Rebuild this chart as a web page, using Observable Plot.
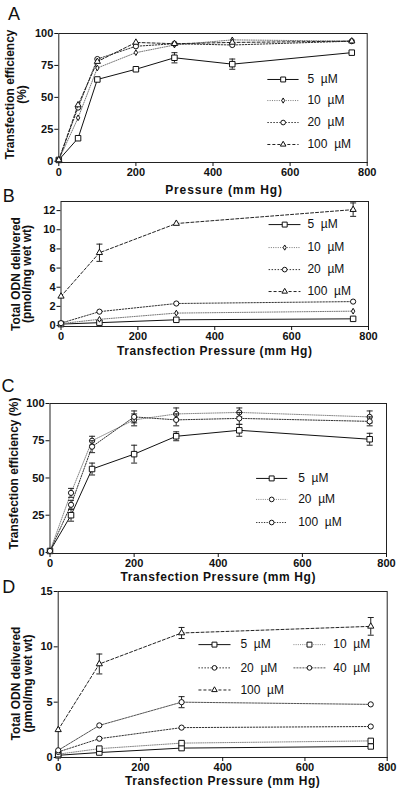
<!DOCTYPE html>
<html><head><meta charset="utf-8">
<script src="https://cdn.jsdelivr.net/npm/d3@7"></script>
<script src="https://cdn.jsdelivr.net/npm/@observablehq/plot@0.6"></script>
<style>
body{margin:0;background:#fff;}
#wrap{position:relative;width:400px;height:791px;overflow:hidden;background:#fff;}
#wrap svg{position:absolute;left:0;}
</style></head><body><div id="wrap"></div>
<script>
// ---------- data ----------
const xTicks = [0, 200, 400, 600, 800];

// Panel A
const pressA = [0, 50, 100, 200, 300, 450, 760];
const A_5   = [1, 18, 64, 72, 81, 76, 85];
const A_5e  = [0, 0, 0, 0, 4, 4, 0];
const A_10  = [1, 34, 73, 85, 91, 95, 94];
const A_20  = [1, 42, 80, 90, 92, 91, 94];
const A_100 = [1, 44, 78, 93, 92, 93, 94];
const A_yTicks = [0, 25, 50, 75, 100];

// Panel B
const pressB = [0, 100, 300, 760];
const B_5    = [0.15, 0.3, 0.6, 0.7];
const B_10   = [0.2, 0.65, 1.3, 1.5];
const B_20   = [0.25, 1.45, 2.3, 2.5];
const B_100  = [3.05, 7.6, 10.65, 12.1];
const B_100e = [0, 0.9, 0, 0.7];
const B_yTicks = [0, 2, 4, 6, 8, 10, 12];

// Panel C
const pressC = [0, 50, 100, 200, 300, 450, 760];
const C_5    = [1, 25, 56, 66, 78, 82, 76];
const C_5e   = [0, 4, 4, 6, 3, 4, 4];
const C_20   = [1, 40, 75, 89, 93, 94, 91];
const C_20e  = [0, 3, 3, 4, 4, 3, 4];
const C_100  = [1, 32, 71, 91, 89, 90, 88];
const C_100e = [0, 3, 4, 4, 4, 4, 3];
const C_yTicks = [0, 25, 50, 75, 100];

// Panel D
const pressD = [0, 100, 300, 760];
const D_5    = [0.2, 0.45, 0.85, 1.0];
const D_10   = [0.3, 0.8, 1.3, 1.5];
const D_20   = [0.5, 1.7, 2.7, 2.8];
const D_40   = [0.65, 2.9, 5.0, 4.8];
const D_40e  = [0, 0, 0.5, 0];
const D_100  = [2.5, 8.45, 11.25, 11.85];
const D_100e = [0, 0.9, 0.5, 0.8];
const D_yTicks = [0, 5, 10, 15];

const labels = {"5": "5\u00a0\u00a0\u00b5M", "10": "10\u00a0\u00a0\u00b5M", "20": "20\u00a0\u00a0\u00b5M", "40": "40\u00a0\u00a0\u00b5M", "100": "100\u00a0\u00a0\u00b5M"};

// ---------- styles ----------
const ST = {
  solidSq:  {stroke: "#111", dash: null,      symbol: "square",   r: 3.1},
  dotDia:   {stroke: "#777", dash: "1,1.3",   symbol: "diamond",  r: 1.75},
  dotCirc:  {stroke: "#333", dash: "1.5,1.5", symbol: "circle",   r: 2.6},
  dashTri:  {stroke: "#222", dash: "3,2",     symbol: "triangle", r: 2.3},
  greyCirc: {stroke: "#888", dash: "1,1.2",   symbol: "circle",   r: 2.6},
  darkCirc: {stroke: "#333", dash: "1.3,1.3", symbol: "circle",   r: 2.6},
  greySq:   {stroke: "#888", dash: "1,1.2",   symbol: "square",   r: 3.1},
  dashCirc: {stroke: "#555", dash: "2,1",     symbol: "circle",   r: 2.6}
};
const cap = {draw(ctx, size) { const w = Math.sqrt(size / Math.PI); ctx.moveTo(-w, 0); ctx.lineTo(w, 0); }};
const FONT = '"Liberation Sans", Arial, Helvetica, sans-serif';

function rows(press, vals, errs) {
  return press.map((p, i) => ({p, v: vals[i], e: errs ? errs[i] : 0}));
}

function panel(cfg) {
  const marks = [Plot.frame({stroke: "#222", strokeWidth: 1})];
  marks.push(Plot.axisX({ticks: xTicks, tickSize: 4, tickPadding: 1.5, label: null, fontWeight: "bold"}));
  marks.push(Plot.axisY({ticks: cfg.yTicks, tickSize: 4, tickPadding: 1.5, label: null, fontWeight: "bold"}));
  for (const s of cfg.series) {
    const st = ST[s.style];
    const data = rows(cfg.press, s.vals, s.errs);
    marks.push(Plot.line(data, {x: "p", y: "v", stroke: st.stroke, strokeWidth: 1, strokeDasharray: st.dash}));
    const ed = data.filter(d => d.e > 0);
    if (ed.length) {
      marks.push(Plot.ruleX(ed, {x: "p", y1: d => d.v - d.e, y2: d => d.v + d.e, stroke: "#222", strokeWidth: 1}));
      marks.push(Plot.dot(ed, {x: "p", y: d => d.v + d.e, symbol: cap, r: 3, stroke: "#222", strokeWidth: 1}));
      marks.push(Plot.dot(ed, {x: "p", y: d => d.v - d.e, symbol: cap, r: 3, stroke: "#222", strokeWidth: 1}));
    }
    marks.push(Plot.dot(data, {x: "p", y: "v", symbol: st.symbol, r: st.r, fill: "white", stroke: "#111", strokeWidth: 1}));
  }
  // legend
  for (const L of cfg.legend) {
    const st = ST[L.style];
    marks.push(Plot.link([L], {x1: "x1", x2: "x2", y1: "y", y2: "y", stroke: st.stroke, strokeWidth: 1, strokeDasharray: st.dash}));
    marks.push(Plot.dot([L], {x: "xm", y: "y", symbol: st.symbol, r: st.r * 0.9, fill: "white", stroke: "#111", strokeWidth: 1}));
    marks.push(Plot.text([L], {x: "xt", y: "y", text: d => labels[d.key], textAnchor: "start", fontSize: 12, fontWeight: "normal", fill: "#111"}));
  }
  // titles
  marks.push(Plot.text([cfg.xTitle], {frameAnchor: "bottom", textAnchor: "middle", lineAnchor: "middle", dy: cfg.xTitleDy, dx: cfg.xTitleDx || 0, fontSize: 12, fontWeight: "bold", fill: "#111"}));
  marks.push(Plot.text([cfg.yTitle], {frameAnchor: "left", textAnchor: "middle", lineAnchor: "middle", rotate: -90, dx: cfg.yTitleDx, dy: cfg.yTitleDy, fontSize: 12, fontWeight: "bold", lineHeight: cfg.lineHeight || 1, fill: "#111"}));
  marks.push(Plot.text([cfg.letter], {frameAnchor: "top-left", textAnchor: "middle", lineAnchor: "middle", dx: cfg.letterDx, dy: cfg.letterDy, fontSize: 18, fontWeight: "normal", fill: "#111"}));

  const svg = Plot.plot({
    width: 400, height: cfg.height,
    marginTop: cfg.mt, marginBottom: cfg.mb, marginLeft: cfg.ml, marginRight: cfg.mr,
    x: {domain: cfg.xDomain},
    y: {domain: cfg.yDomain},
    style: {background: "none", fontFamily: FONT, fontSize: "11px", color: "#111", overflow: "visible"},
    marks
  });
  // wider letter spacing on the x-axis title, as in the scanned figure
  svg.querySelectorAll("text").forEach(t => {
    if (t.textContent === cfg.xTitle) t.style.letterSpacing = cfg.xTitleSpacing || "0.6px";
  });
  svg.style.top = cfg.top + "px";
  document.getElementById("wrap").appendChild(svg);
}

panel({
  top: 0, height: 200, mt: 33, mb: 38, ml: 58.3, mr: 33.3,
  xDomain: [0, 800], yDomain: [-1, 100], yTicks: A_yTicks, press: pressA,
  series: [
    {key: "5", vals: A_5, errs: A_5e, style: "solidSq"},
    {key: "10", vals: A_10, style: "dotDia"},
    {key: "20", vals: A_20, style: "dotCirc"},
    {key: "100", vals: A_100, style: "dashTri"}
  ],
  legend: [
    {key: "5", style: "solidSq", x1: 541, x2: 622, xm: 582, xt: 645, y: 64},
    {key: "10", style: "dotDia", x1: 541, x2: 622, xm: 582, xt: 645, y: 47.5},
    {key: "20", style: "dotCirc", x1: 541, x2: 622, xm: 582, xt: 645, y: 30.3},
    {key: "100", style: "dashTri", x1: 541, x2: 622, xm: 582, xt: 645, y: 13.1}
  ],
  xTitle: "Pressure (mm Hg)", xTitleDy: 28, xTitleDx: 11, xTitleSpacing: "0.9px",
  yTitle: "Transfection efficiency\n(%)", yTitleDx: -42.3, yTitleDy: -3.5, lineHeight: 0.95,
  letter: "A", letterDx: -44.8, letterDy: -19.5
});

panel({
  top: 185, height: 175, mt: 16, mb: 34, ml: 60.5, mr: 32,
  xDomain: [0, 800], yDomain: [-0.1, 12.95], yTicks: B_yTicks, press: pressB,
  series: [
    {key: "5", vals: B_5, style: "solidSq"},
    {key: "10", vals: B_10, style: "dotDia"},
    {key: "20", vals: B_20, style: "dotCirc"},
    {key: "100", vals: B_100, errs: B_100e, style: "dashTri"}
  ],
  legend: [
    {key: "5", style: "solidSq", x1: 540, x2: 623, xm: 582, xt: 641, y: 10.54},
    {key: "10", style: "dotDia", x1: 540, x2: 623, xm: 582, xt: 641, y: 8.14},
    {key: "20", style: "dotCirc", x1: 540, x2: 623, xm: 582, xt: 641, y: 5.84},
    {key: "100", style: "dashTri", x1: 540, x2: 623, xm: 582, xt: 641, y: 3.55}
  ],
  xTitle: "Transfection Pressure (mm Hg)", xTitleDy: 24.5,
  yTitle: "Total ODN delivered\n(pmol/mg wet wt)", yTitleDx: -39, yTitleDy: 10, lineHeight: 0.95,
  letter: "B", letterDx: -52.2, letterDy: -5
});

panel({
  top: 375, height: 205, mt: 28, mb: 27, ml: 49.5, mr: 14,
  xDomain: [0, 800], yDomain: [-0.7, 100], yTicks: C_yTicks, press: pressC,
  series: [
    {key: "5", vals: C_5, errs: C_5e, style: "solidSq"},
    {key: "20", vals: C_20, errs: C_20e, style: "greyCirc"},
    {key: "100", vals: C_100, errs: C_100e, style: "darkCirc"}
  ],
  legend: [
    {key: "5", style: "solidSq", x1: 490, x2: 564, xm: 527, xt: 590, y: 49.7},
    {key: "20", style: "greyCirc", x1: 490, x2: 564, xm: 527, xt: 590, y: 35.6},
    {key: "100", style: "darkCirc", x1: 490, x2: 564, xm: 527, xt: 590, y: 20.1}
  ],
  xTitle: "Transfection Pressure (mm Hg)", xTitleDy: 24,
  yTitle: "Transfection efficiency (%)", yTitleDx: -35.5, yTitleDy: -5,
  letter: "C", letterDx: -42, letterDy: -17
});

panel({
  top: 580, height: 211, mt: 11, mb: 34, ml: 57.7, mr: 13.3,
  xDomain: [0, 800], yDomain: [0, 15], yTicks: D_yTicks, press: pressD,
  series: [
    {key: "5", vals: D_5, style: "solidSq"},
    {key: "10", vals: D_10, style: "greySq"},
    {key: "20", vals: D_20, style: "dotCirc"},
    {key: "40", vals: D_40, errs: D_40e, style: "dashCirc"},
    {key: "100", vals: D_100, errs: D_100e, style: "dashTri"}
  ],
  legend: [
    {key: "5", style: "solidSq", x1: 341, x2: 419, xm: 380, xt: 443, y: 10.2},
    {key: "10", style: "greySq", x1: 572, x2: 650, xm: 611, xt: 669, y: 10.2},
    {key: "20", style: "dotCirc", x1: 341, x2: 419, xm: 380, xt: 443, y: 8.1},
    {key: "40", style: "dashCirc", x1: 572, x2: 650, xm: 611, xt: 669, y: 8.1},
    {key: "100", style: "dashTri", x1: 341, x2: 419, xm: 380, xt: 443, y: 6.1}
  ],
  xTitle: "Transfection Pressure (mm Hg)", xTitleDy: 24,
  yTitle: "Total ODN delivered\n(pmol/mg wet wt)", yTitleDx: -35.7, yTitleDy: 9, lineHeight: 1.0,
  letter: "D", letterDx: -49.4, letterDy: -4
});
</script></body></html>
